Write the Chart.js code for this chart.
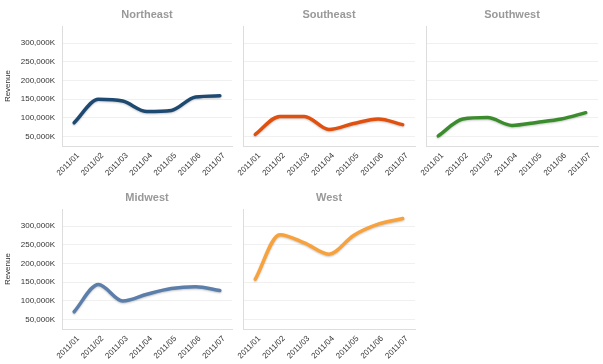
<!DOCTYPE html>
<html>
<head>
<meta charset="utf-8">
<script src="https://cdn.jsdelivr.net/npm/chart.js@4.4.0/dist/chart.umd.min.js"></script>
<style>
  body { margin: 0; background: #fff; width: 603px; height: 364px; overflow: hidden; position: relative; }
  .panel { position: absolute; }
</style>
</head>
<body>
<div class="panel" style="left:0;top:0;width:236px;height:182px"><canvas id="c1"></canvas></div>
<div class="panel" style="left:236px;top:0;width:183px;height:182px"><canvas id="c2"></canvas></div>
<div class="panel" style="left:419px;top:0;width:184px;height:182px"><canvas id="c3"></canvas></div>
<div class="panel" style="left:0;top:182px;width:236px;height:182px"><canvas id="c4"></canvas></div>
<div class="panel" style="left:236px;top:182px;width:183px;height:182px"><canvas id="c5"></canvas></div>
<script>
// meses
const months = ['2011/01', '2011/02', '2011/03', '2011/04', '2011/05', '2011/06', '2011/07']
// revenue in K
const northeast = [87000, 150000, 145000, 117000, 120000, 156000, 159000]
const southeast = [56000, 104000, 104000, 69000, 85000, 97000, 82000]
const southwest = [52000, 97000, 101000, 80000, 88000, 97000, 114000]
const midwest = [71000, 144000, 100000, 118000, 133000, 138000, 128000]
const west = [158000, 277000, 255000, 225000, 275000, 305000, 320000]
const yTicks = [50000, 100000, 150000, 200000, 250000, 300000]

Chart.defaults.font.family = "'Liberation Sans', Arial, sans-serif"
Chart.defaults.font.size = 8
Chart.defaults.color = '#333'

const shadow = {
  id: 'shadow',
  beforeDatasetDraw(chart) {
    const c = chart.ctx
    c.save()
    c.shadowColor = 'rgba(0,0,0,0.22)'
    c.shadowBlur = 2
    c.shadowOffsetY = 1
  },
  afterDatasetDraw(chart) {
    chart.ctx.restore()
  }
}

function makeChart(id, title, values, color, first, topPad, rightPad) {
  return new Chart(document.getElementById(id), {
    type: 'line',
    data: {
      labels: months,
      datasets: [{
        label: title,
        data: values,
        borderColor: color,
        backgroundColor: color,
        borderWidth: 3.5,
        borderCapStyle: 'round',
        cubicInterpolationMode: 'monotone',
        pointRadius: 0,
        fill: false
      }]
    },
    options: {
      responsive: true,
      maintainAspectRatio: false,
      animation: false,
      layout: { padding: { right: rightPad } },
      plugins: {
        legend: { display: false },
        tooltip: { enabled: false },
        title: {
          display: true,
          text: title,
          fullSize: false,
          color: '#999',
          font: { size: 11, weight: 'bold' },
          padding: { top: topPad, bottom: 5 }
        }
      },
      scales: {
        x: {
          offset: true,
          grid: { display: false, drawTicks: false },
          border: { color: '#ddd' },
          ticks: { minRotation: 45, maxRotation: 45, padding: 5, labelOffset: 4, autoSkip: false },
          afterFit(s) {
            s.height = 36 - (topPad - 8)
            s.paddingLeft = 0
            s.paddingRight = 0
          }
        },
        y: {
          min: 25000,
          max: 345000,
          grid: { color: '#f0f0f0', drawTicks: false },
          border: { color: '#ddd' },
          title: { display: first, text: 'Revenue', padding: { top: 3, bottom: 2 } },
          ticks: {
            display: first,
            padding: 7,
            callback: (v) => v.toLocaleString('en-US') + 'K'
          },
          afterBuildTicks(s) { s.ticks = yTicks.map(v => ({ value: v })) },
          afterFit(s) { s.width = first ? 62 : 7 }
        }
      }
    },
    plugins: [shadow]
  })
}

makeChart('c1', 'Northeast', northeast, '#1e4a72', true, 8, 4)
makeChart('c2', 'Southeast', southeast, '#e0500f', false, 8, 4)
makeChart('c3', 'Southwest', southwest, '#3b8c2c', false, 8, 5)
makeChart('c4', 'Midwest', midwest, '#5b7eab', true, 9, 4)
makeChart('c5', 'West', west, '#f7a23c', false, 9, 4)
</script>
</body>
</html>
